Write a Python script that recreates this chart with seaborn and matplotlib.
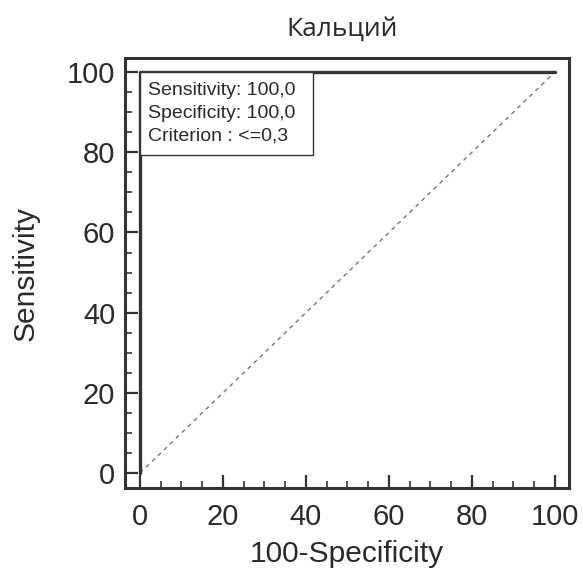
import matplotlib
matplotlib.use("Agg")
import matplotlib.pyplot as plt
from matplotlib.patches import Rectangle
from matplotlib.ticker import MultipleLocator
import seaborn as sns
import pandas as pd

title = "Кальций"
x_label = "100-Specificity"
y_label = "Sensitivity"
roc_fpr = [0, 0, 100]
roc_tpr = [0, 100, 100]
ref_x = [0, 100]
ref_y = [0, 100]
legend_lines = ["Sensitivity: 100,0", "Specificity: 100,0", "Criterion : <=0,3"]
ticks = [0, 20, 40, 60, 80, 100]

sns.set_theme(style="white")
plt.rcParams['font.family'] = ['Liberation Sans', 'DejaVu Sans']

fig = plt.figure(figsize=(5.83, 5.70), dpi=100)
ax = fig.add_axes([0.2144, 0.1439, 0.7616, 0.7543])
col = "#333333"
txt = "#2a2a2a"

roc = pd.DataFrame({"fpr": roc_fpr, "tpr": roc_tpr})
ref = pd.DataFrame({"x": ref_x, "y": ref_y})
sns.lineplot(data=ref, x="x", y="y", ax=ax, color="#777777", lw=1.0,
             linestyle=(0, (3, 3)), estimator=None, sort=False)
sns.lineplot(data=roc, x="fpr", y="tpr", ax=ax, color=col, lw=2.4,
             estimator=None, sort=False)

ax.set_xlim(-3.6, 103.4)
ax.set_ylim(-3.7, 103.5)
ax.set_xticks(ticks)
ax.set_yticks(ticks)
ax.xaxis.set_minor_locator(MultipleLocator(5))
ax.yaxis.set_minor_locator(MultipleLocator(5))
ax.tick_params(which="major", direction="in", length=9.5, width=1.6, color=col,
               labelsize=21, labelcolor=txt)
ax.tick_params(which="minor", direction="in", length=5, width=1.2, color=col)
ax.tick_params(axis="x", which="both", bottom=True, pad=10.5)
ax.tick_params(axis="y", which="both", left=True, pad=7)
for s in ax.spines.values():
    s.set_color(col)
    s.set_linewidth(2.2)

ax.set_xlabel(x_label, fontsize=21.5, color=txt, labelpad=7)
ax.set_ylabel(y_label, fontsize=21.5, color=txt, labelpad=20)
ax.set_title(title, fontsize=19, color=txt, pad=16, family=["Open Sans", "DejaVu Sans"],
             x=0.49)

ax.add_patch(Rectangle((0, 79.2), 41.7, 20.8, fill=True, facecolor="white",
                       edgecolor=col, lw=1.0, zorder=5))
for i, t in enumerate(legend_lines):
    ax.text(1.9, 95.5 - i * 5.75, t, fontsize=14, color=txt, va="center",
            ha="left", zorder=6)

fig.savefig("out.png", dpi=100)
